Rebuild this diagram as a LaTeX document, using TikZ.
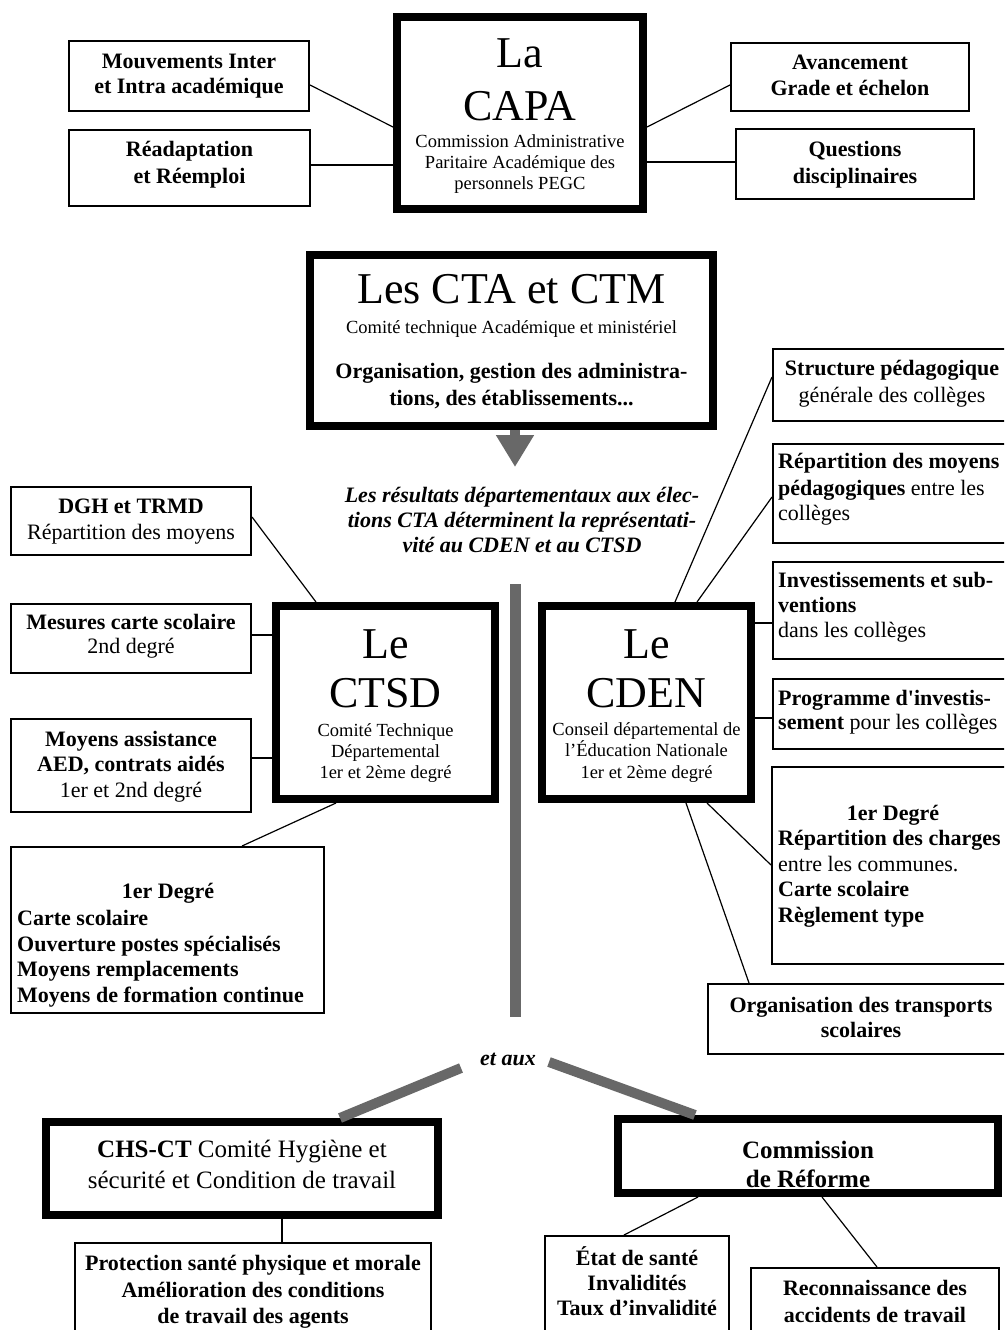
\documentclass[tikz,border=0pt]{standalone}
\usepackage{fontspec}
\setmainfont{Liberation Serif}[Ligatures=TeXOff]
\usetikzlibrary{arrows.meta}
\definecolor{barc}{RGB}{104,104,104}
\newcommand\szBig{\fontsize{44}{50}\selectfont}
\newcommand\szSub{\fontsize{18.5}{21}\selectfont}
\newcommand\szTxt{\fontsize{22}{25}\selectfont}
\newcommand\szLrg{\fontsize{25}{30}\selectfont}
\begin{document}
\begin{tikzpicture}[x=1pt,y=-1pt,
  sbox/.style={draw, line width=1.8pt, inner sep=0pt},
  bbox/.style={draw, line width=8pt, inner sep=0pt},
  tx/.style={inner sep=0pt, anchor=base, font=\szTxt\bfseries},
  txl/.style={inner sep=0pt, anchor=base west, font=\szTxt\bfseries},
  conn/.style={line width=1.2pt},
  gline/.style={line width=10pt, draw=barc},
  garrow/.style={line width=10pt, draw=barc, -{Triangle[width=36pt,length=32pt]}}]
\fill[white] (0,0) rectangle (1004,1330);
\useasboundingbox (0,0) rectangle (1004,1330);
\clip (0,0) rectangle (1004,1330);

% ---------- CAPA ----------
\node[bbox, minimum width=246pt, minimum height=192pt] (capa) at (520,113) {};
\node[tx, font=\szBig] (capa1) at (520,67) {La};
\node[tx, font=\szBig] (capa2) at (520,120) {CAPA};
\node[tx, font=\szSub] (capa3) at (520,147) {Commission Administrative};
\node[tx, font=\szSub] (capa4) at (520,168) {Paritaire Académique des};
\node[tx, font=\szSub] (capa5) at (520,189) {personnels PEGC};

\node[sbox, minimum width=240.2pt, minimum height=70.2pt] (mouv) at (189,76) {};
\node[tx] (mouv1) at (189,68) {Mouvements Inter};
\node[tx] (mouv2) at (189,93) {et Intra académique};

\node[sbox, minimum width=241.2pt, minimum height=76.2pt] (read) at (189.5,168) {};
\node[tx] (read1) at (189.5,156) {Réadaptation};
\node[tx] (read2) at (189.5,183) {et Réemploi};

\node[sbox, minimum width=238.2pt, minimum height=68.2pt] (avan) at (850,77) {};
\node[tx] (avan1) at (850,70) {Avancement};
\node[tx] (avan2) at (850,95) {Grade et échelon};

\node[sbox, minimum width=238.2pt, minimum height=70.2pt] (ques) at (855,164) {};
\node[tx] (ques1) at (855,156) {Questions};
\node[tx] (ques2) at (855,183) {disciplinaires};

\draw[conn] (mouv.east |- 0,85) -- (capa.west |- 0,127);
\draw[conn] (read.east |- 0,165) -- (capa.west |- 0,165);
\draw[conn] (avan.west |- 0,85) -- (capa.east |- 0,127);
\draw[conn] (ques.west |- 0,162) -- (capa.east |- 0,162);

% ---------- CTA ----------
\node[bbox, minimum width=403pt, minimum height=171pt] (cta) at (511.5,340.5) {};
\node[tx, font=\szBig] (cta1) at (511.5,303) {Les CTA et CTM};
\node[tx, font=\szSub] (cta2) at (511.5,333) {Comité technique Académique et ministériel};
\node[tx] (cta3) at (511.5,378) {Organisation, gestion des administra-};
\node[tx] (cta4) at (511.5,405) {tions, des établissements...};

\coordinate (arrtip) at (515,467);
\draw[garrow] (cta.south -| 515,0) -- (arrtip);

\node[tx, font=\szTxt\bfseries\itshape] (res1) at (522,502) {Les résultats départementaux aux élec-};
\node[tx, font=\szTxt\bfseries\itshape] (res2) at (522,527) {tions CTA déterminent la représentati-};
\node[tx, font=\szTxt\bfseries\itshape] (res3) at (522,552) {vité au CDEN et au CTSD};

\coordinate (bartop) at (515.5,584);
\coordinate (barbot) at (515.5,1017);
\draw[gline, line width=11pt] (bartop) -- (barbot);

% ---------- CTSD ----------
\node[bbox, minimum width=219pt, minimum height=193pt] (ctsd) at (385.5,702.5) {};
\node[tx, font=\szBig] (ctsd1) at (385.5,658) {Le};
\node[tx, font=\szBig] (ctsd2) at (385.5,707) {CTSD};
\node[tx, font=\szSub] (ctsd3) at (385.5,736) {Comité Technique};
\node[tx, font=\szSub] (ctsd4) at (385.5,757) {Départemental};
\node[tx, font=\szSub] (ctsd5) at (385.5,778) {1er et 2ème degré};

\node[sbox, minimum width=240.2pt, minimum height=68.2pt] (dgh) at (131,521) {};
\node[tx] (dgh1) at (131,513) {DGH et TRMD};
\node[tx, font=\szTxt] (dgh2) at (131,539) {Répartition des moyens};

\node[sbox, minimum width=240.2pt, minimum height=69.2pt] (mes) at (131,638.5) {};
\node[tx] (mes1) at (131,629) {Mesures carte scolaire};
\node[tx, font=\szTxt] (mes2) at (131,653) {2nd degré};

\node[sbox, minimum width=240.2pt, minimum height=93.2pt] (moy) at (131,765.5) {};
\node[tx] (moy1) at (131,746) {Moyens assistance};
\node[tx] (moy2) at (131,771) {AED, contrats aidés};
\node[tx, font=\szTxt] (moy3) at (131,797) {1er et 2nd degré};

\node[sbox, minimum width=313.2pt, minimum height=166.2pt] (lone) at (167.5,930) {};
\node[tx] (lone1) at (168,898) {1er Degré};
\node[txl] (lone2) at (17,925) {Carte scolaire};
\node[txl] (lone3) at (17,951) {Ouverture postes spécialisés};
\node[txl] (lone4) at (17,976) {Moyens remplacements};
\node[txl] (lone5) at (17,1002) {Moyens de formation continue};

\draw[conn] (dgh.east |- 0,517) -- (ctsd.north -| 316,0);
\draw[conn] (mes.east |- 0,635) -- (ctsd.west |- 0,635);
\draw[conn] (moy.east |- 0,758) -- (ctsd.west |- 0,758);
\draw[conn] (ctsd.south -| 336,0) -- (lone.north -| 242,0);

% ---------- CDEN ----------
\node[bbox, minimum width=209pt, minimum height=193pt] (cden) at (646.5,702.5) {};
\node[tx, font=\szBig] (cden1) at (646.5,658) {Le};
\node[tx, font=\szBig] (cden2) at (646.5,707) {CDEN};
\node[tx, font=\szSub] (cden3) at (646.5,735) {Conseil départemental de};
\node[tx, font=\szSub] (cden4) at (646.5,756) {l’Éducation Nationale};
\node[tx, font=\szSub] (cden5) at (646.5,778) {1er et 2ème degré};

\node[sbox, minimum width=238.2pt, minimum height=72.2pt] (stru) at (892,385) {};
\node[tx] (stru1) at (892,375) {Structure pédagogique};
\node[tx, font=\szTxt] (stru2) at (892,402) {générale des collèges};

\node[sbox, minimum width=238.2pt, minimum height=99.2pt] (rep) at (892,493.5) {};
\node[txl] (rep1) at (778,468) {Répartition des moyens};
\node[txl, font=\szTxt] (rep2) at (778,495) {\bfseries pédagogiques\mdseries{} entre les};
\node[txl, font=\szTxt] (rep3) at (778,520) {collèges};

\node[sbox, minimum width=238.2pt, minimum height=97.2pt] (inv) at (892,610.5) {};
\node[txl] (inv1) at (778,587) {Investissements et sub-};
\node[txl] (inv2) at (778,612) {ventions};
\node[txl, font=\szTxt] (inv3) at (778,637) {dans les collèges};

\node[sbox, minimum width=238.2pt, minimum height=70.2pt] (prog) at (892,714) {};
\node[txl] (prog1) at (778,705) {Programme d'investis-};
\node[txl, font=\szTxt] (prog2) at (778,729) {\bfseries sement\mdseries{} pour les collèges};

\node[sbox, minimum width=239.2pt, minimum height=197.2pt] (rone) at (891.5,865.5) {};
\node[tx] (rone1) at (893,820) {1er Degré};
\node[txl] (rone2) at (778,845) {Répartition des charges};
\node[txl, font=\szTxt] (rone3) at (778,871) {entre les communes.};
\node[txl] (rone4) at (778,896) {Carte scolaire};
\node[txl] (rone5) at (778,922) {Règlement type};

\node[sbox, minimum width=306.2pt, minimum height=70.2pt] (org) at (861,1019) {};
\node[tx] (org1) at (861,1012) {Organisation des transports};
\node[tx] (org2) at (861,1037) {scolaires};

\draw[conn] (cden.north -| 675,0) -- (stru.west |- 0,377);
\draw[conn] (cden.north -| 697,0) -- (rep.west |- 0,497);
\draw[conn] (cden.east |- 0,623) -- (inv.west |- 0,623);
\draw[conn] (cden.east |- 0,718) -- (prog.west |- 0,718);
\draw[conn] (cden.south -| 707,0) -- (rone.west |- 0,865);
\draw[conn] (cden.south -| 686,0) -- (org.north -| 749,0);

% ---------- et aux ----------
\node[tx, font=\szTxt\bfseries\itshape] (etaux) at (508,1065) {et aux};

% ---------- CHS-CT ----------
\node[bbox, minimum width=392pt, minimum height=93pt] (chs) at (242,1168.5) {};
\node[tx, font=\szLrg] (chs1) at (242,1157) {\bfseries CHS-CT\mdseries{} Comité Hygiène et};
\node[tx, font=\szLrg] (chs2) at (242,1188) {sécurité et Condition de travail};

\node[bbox, minimum width=380pt, minimum height=74pt] (com) at (808,1156) {};
\node[tx, font=\szLrg\bfseries] (com1) at (808,1158) {Commission};
\node[tx, font=\szLrg\bfseries] (com2) at (808,1187) {de Réforme};

\coordinate (gl1) at (461,1068);
\coordinate (gr1) at (549,1062);
\draw[gline] (gl1) -- (chs.north -| 340,0);
\draw[gline] (gr1) -- (com.north -| 695,0);

\node[sbox, minimum width=356.2pt, minimum height=101.2pt] (prot) at (253,1293.5) {};
\node[tx] (prot1) at (253,1270) {Protection santé physique et morale};
\node[tx] (prot2) at (253,1297) {Amélioration des conditions};
\node[tx] (prot3) at (253,1323) {de travail des agents};

\node[sbox, minimum width=184.2pt, minimum height=108.2pt] (etat) at (637,1290) {};
\node[tx] (etat1) at (637,1265) {État de santé};
\node[tx] (etat2) at (637,1290) {Invalidités};
\node[tx] (etat3) at (637,1315) {Taux d’invalidité};

\node[sbox, minimum width=248.2pt, minimum height=76.2pt] (reco) at (875,1306) {};
\node[tx] (reco1) at (875,1295) {Reconnaissance des};
\node[tx] (reco2) at (875,1322) {accidents de travail};

\draw[conn] (chs.south -| 282,0) -- (prot.north -| 282,0);
\draw[conn] (com.south -| 698,0) -- (etat.north -| 624,0);
\draw[conn] (com.south -| 822,0) -- (reco.north -| 877,0);
\end{tikzpicture}
\end{document}
